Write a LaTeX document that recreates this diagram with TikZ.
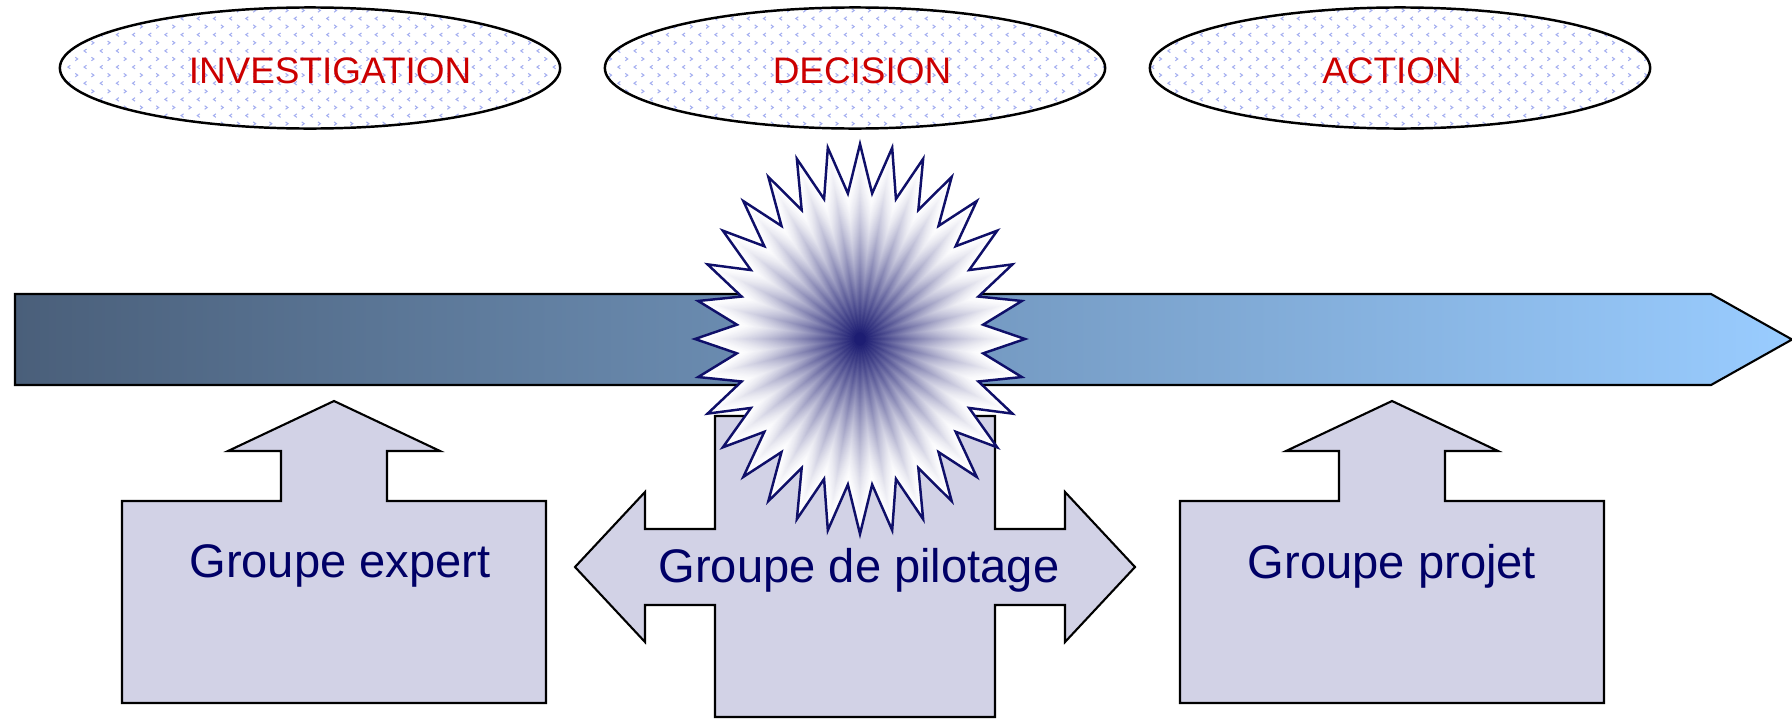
\documentclass[tikz,border=0pt]{standalone}
\usepackage{fontspec}
\setmainfont{Liberation Sans}
\usepackage{xcolor}
\usepackage{tikz}
\usetikzlibrary{shapes, patterns, positioning}

\definecolor{rouge}{RGB}{204,0,0}
\definecolor{marine}{RGB}{0,0,102}
\definecolor{etoile}{RGB}{15,15,105}
\definecolor{flecheA}{RGB}{74,95,122}
\definecolor{flecheB}{RGB}{153,204,255}
\definecolor{trame}{RGB}{210,210,230}
\definecolor{chevron}{RGB}{165,175,240}

\pgfdeclarepatternformonly{chevrons}{\pgfpoint{-0.2pt}{-0.2pt}}{\pgfpoint{4.8pt}{4.8pt}}{\pgfpoint{4.6pt}{4.6pt}}{
  \pgfsetlinewidth{0.3pt}
  \pgfpathmoveto{\pgfpoint{1.6pt}{0.6pt}}
  \pgfpathlineto{\pgfpoint{0.9pt}{1.1pt}}
  \pgfpathlineto{\pgfpoint{1.6pt}{1.6pt}}
  \pgfpathmoveto{\pgfpoint{3.0pt}{2.9pt}}
  \pgfpathlineto{\pgfpoint{3.7pt}{3.4pt}}
  \pgfpathlineto{\pgfpoint{3.0pt}{3.9pt}}
  \pgfusepath{stroke}
}

\tikzset{
  bulle/.style={ellipse, draw=black, line width=0.7pt, pattern=chevrons,
    pattern color=chevron, minimum width=5cm, minimum height=1.21cm, inner sep=0pt},
  etape/.style={text=rouge, font=\fontsize{10.5}{12}\selectfont, anchor=base},
  groupe/.style={text=marine, font=\fontsize{13.4}{16}\selectfont, anchor=base},
  bloc/.style={draw=black, line width=0.6pt, fill=trame},
}

\begin{document}
\begin{tikzpicture}[x=0.01cm, y=-0.01cm]
  \useasboundingbox (0,0) rectangle (1792,718);

  % bulles
  \node [bulle] (investigation) at (310,68) {};
  \node [bulle] (decision) at (855,68) {};
  \node [bulle] (action) at (1400,68) {};
  \node [etape] (tInvestigation) at (330,83) {INVESTIGATION};
  \node [etape] (tDecision) at (862,83) {DECISION};
  \node [etape] (tAction) at (1392,83) {ACTION};

  % fleche du temps
  \draw [line width=0.6pt, left color=flecheA, right color=flecheB]
    (15,294) -- (1711,294) -- (1792,339.5) -- (1711,385) -- (15,385) -- cycle;

  % groupe expert
  \draw [bloc] (122,703) -- (122,501) -- (281,501) -- (281,451) -- (228,451)
    -- (334,401) -- (440,451) -- (387,451) -- (387,501) -- (546,501)
    -- (546,703) -- cycle;
  \node [groupe] (expert) at (340,577) {Groupe expert};

  % groupe de pilotage
  \draw [bloc] (715,416) -- (995,416) -- (995,529) -- (1065,529) -- (1065,492)
    -- (1135,567) -- (1065,642) -- (1065,605) -- (995,605) -- (995,717)
    -- (715,717) -- (715,605) -- (645,605) -- (645,642) -- (575,567)
    -- (645,492) -- (645,529) -- (715,529) -- cycle;
  \node [groupe] (pilotage) at (859,582) {Groupe de pilotage};

  % groupe projet
  \draw [bloc] (1180,703) -- (1180,501) -- (1339,501) -- (1339,451) -- (1286,451)
    -- (1392,401) -- (1498,451) -- (1445,451) -- (1445,501) -- (1604,501)
    -- (1604,703) -- cycle;
  \node [groupe] (projet) at (1392,578) {Groupe projet};

  % eclat
  \coordinate (eclat) at (860,339);
  \foreach \s in {1,0.98,...,0.02} {
    \pgfmathsetmacro{\pct}{100*(1-\s)^1.5}
    \fill [etoile!\pct!white, shift={(eclat)}]
      plot [samples at={0,...,63}, variable=\k]
      ({(1-0.25*mod(\k,2))*165*\s*cos(90+\k*5.625)},
       {(1-0.25*mod(\k,2))*195*\s*sin(90+\k*5.625)}) -- cycle;
  }
  \draw [etoile, line width=0.7pt, line join=miter, shift={(eclat)}]
    plot [samples at={0,...,63}, variable=\k]
    ({(1-0.25*mod(\k,2))*165*cos(90+\k*5.625)},
     {(1-0.25*mod(\k,2))*195*sin(90+\k*5.625)}) -- cycle;
\end{tikzpicture}
\end{document}
